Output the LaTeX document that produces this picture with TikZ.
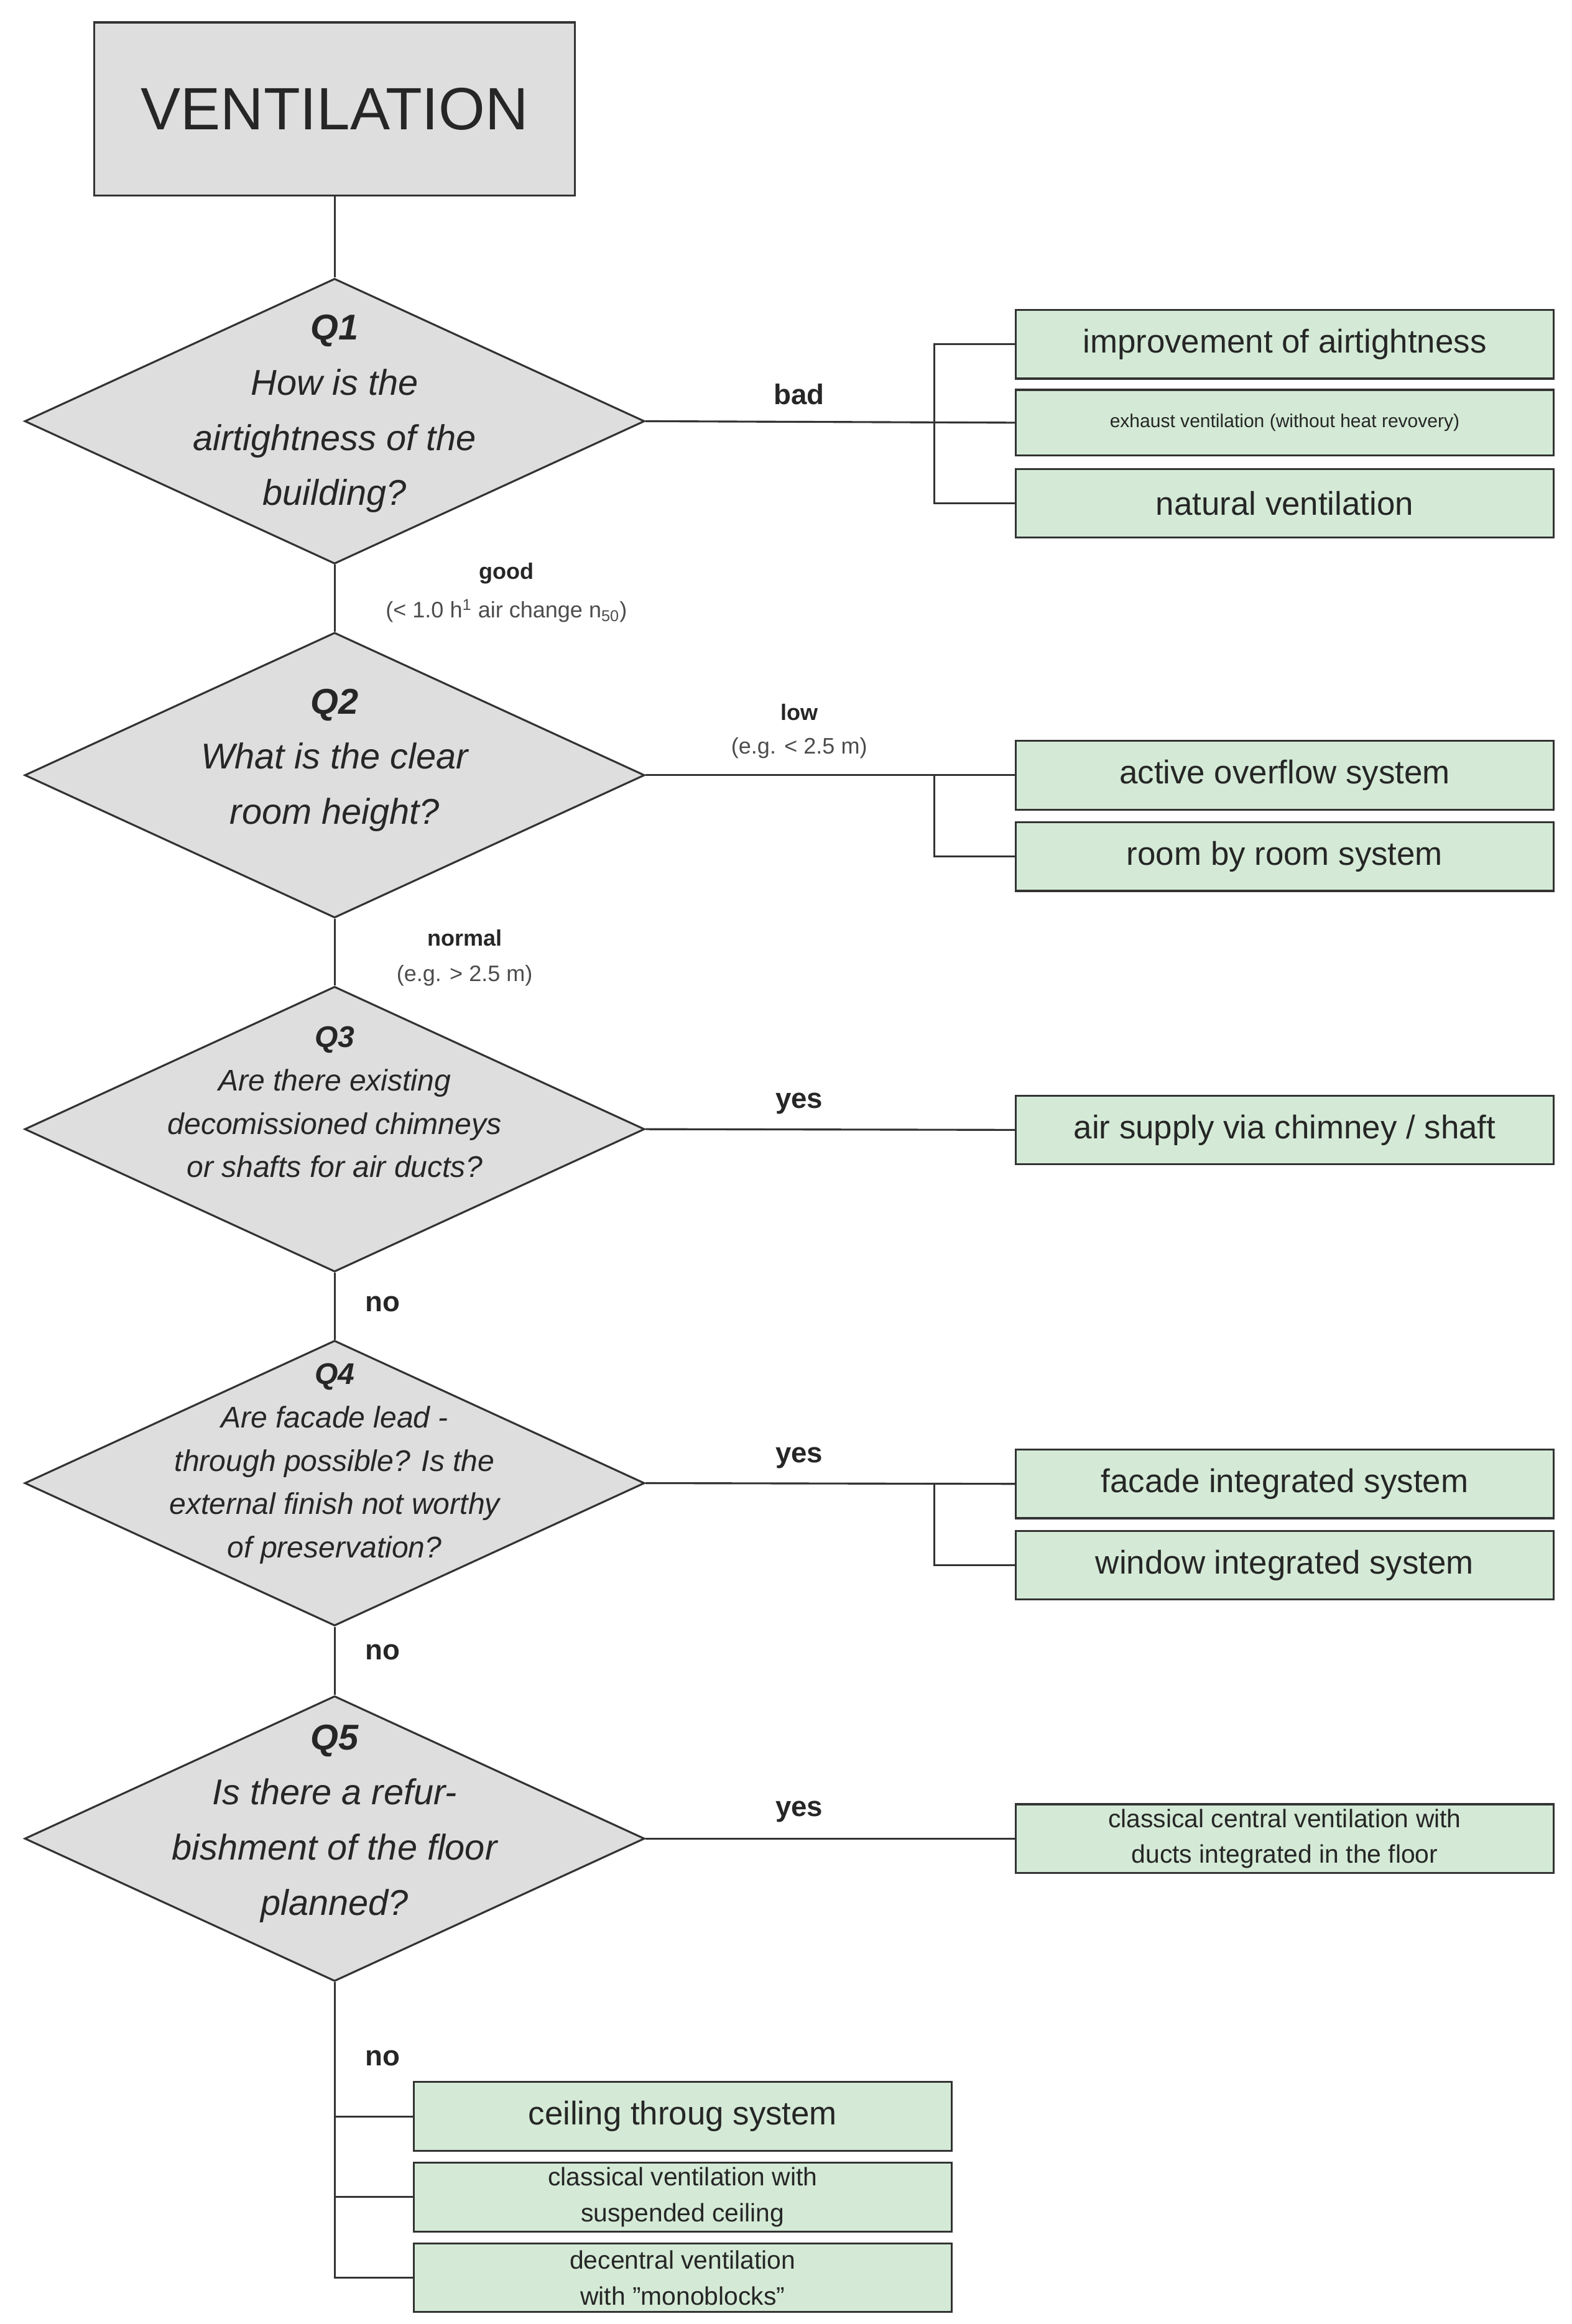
\documentclass[tikz,border=0pt]{standalone}
\usepackage{fontspec}
\setmainfont{Liberation Sans}
\usetikzlibrary{shapes.geometric}
\definecolor{boxg}{HTML}{D4EAD6}
\definecolor{dia}{HTML}{DEDEDE}
\definecolor{ln}{HTML}{333333}
\begin{document}
\begin{tikzpicture}[x=1pt,y=-1pt,line width=1.3pt,
  every node/.style={text=black!85},
  dm/.style={draw=ln,fill=dia,diamond,minimum width=415pt,minimum height=191pt,inner sep=0pt},
  dt/.style={align=center,font=\itshape\fontsize{24}{37}\selectfont},
  dts/.style={align=center,font=\itshape\fontsize{20}{29}\selectfont},
  gb/.style={draw=ln,fill=boxg,minimum width=360pt,minimum height=46pt,inner sep=0pt,align=center,font=\fontsize{22}{26}\selectfont},
  lb/.style={font=\bfseries\fontsize{19}{22}\selectfont},
  lbs/.style={font=\bfseries\fontsize{15}{18}\selectfont},
  sm/.style={font=\fontsize{15}{18}\selectfont,text=black!70}]
\useasboundingbox (0,0) rectangle (1052,1556);
\node[draw=ln,fill=dia,minimum width=322pt,minimum height=116pt,font=\fontsize{40}{44}\selectfont] (v) at (224,73) {VENTILATION};
\node[dm] (q1) at (224,282) {};
\node[dt] at (224,277) {\textbf{Q1}\\How is the\\airtightness of the\\building?};
\node[dm] (q2) at (224,519) {};
\node[dt] at (224,509) {\textbf{Q2}\\What is the clear\\room height?};
\node[dm] (q3) at (224,756) {};
\node[dts] at (224,738) {\textbf{Q3}\\Are there existing\\decomissioned chimneys\\or shafts for air ducts?};
\node[dm] (q4) at (224,993) {};
\node[dts] at (224,980) {\textbf{Q4}\\Are facade lead -\\through possible? Is the\\external finish not worthy\\of preservation?};
\node[dm] (q5) at (224,1231) {};
\node[dt] at (224,1221) {\textbf{Q5}\\Is there a refur-\\bishment of the floor\\planned?};
\node[gb] (b11) at (860,230.5) {improvement of airtightness};
\node[gb,minimum height=44pt,font=\fontsize{12.5}{15}\selectfont] (b12) at (860,283) {exhaust ventilation (without heat revovery)};
\node[gb] (b13) at (860,337) {natural ventilation};
\node[gb] (b21) at (860,519) {active overflow system};
\node[gb] (b22) at (860,573.5) {room by room system};
\node[gb] (b31) at (860,756.5) {air supply via chimney / shaft};
\node[gb] (b41) at (860,993.5) {facade integrated system};
\node[gb] (b42) at (860,1048) {window integrated system};
\node[gb,font=\fontsize{17}{24}\selectfont] (b51) at (860,1231) {classical central ventilation with\\ducts integrated in the floor};
\node[gb] (c1) at (457,1417) {ceiling throug system};
\node[gb,font=\fontsize{17}{24}\selectfont] (c2) at (457,1471) {classical ventilation with\\suspended ceiling};
\node[gb,font=\fontsize{17}{24}\selectfont] (c3) at (457,1525) {decentral ventilation\\with "monoblocks"};
\draw[ln] (v.south) -- (q1.north);
\draw[ln] (q1.south) -- (q2.north);
\draw[ln] (q2.south) -- (q3.north);
\draw[ln] (q3.south) -- (q4.north);
\draw[ln] (q4.south) -- (q5.north);
\draw[ln] (q1.east) -- (b12.west);
\draw[ln] (b11.west) -- ++(-54,0) |- (b13.west);
\draw[ln] (q2.east) -- (b21.west);
\draw[ln] ([xshift=-54pt]b21.west) |- (b22.west);
\draw[ln] (q3.east) -- (b31.west);
\draw[ln] (q4.east) -- (b41.west);
\draw[ln] ([xshift=-54pt]b41.west) |- (b42.west);
\draw[ln] (q5.east) -- (b51.west);
\draw[ln] (q5.south) |- (c3.west);
\draw[ln] (c1.west -| q5.south) -- (c1.west);
\draw[ln] (c2.west -| q5.south) -- (c2.west);
\node[lb] at (535,264) {bad};
\node[lbs] at (339,384) {good};
\node[sm] at (339,409) {(< 1.0 h\textsuperscript{1} air change n\textsubscript{50})};
\node[lbs] at (535,477) {low};
\node[sm] at (535,501) {(e.g. < 2.5 m)};
\node[lbs] at (311,628) {normal};
\node[sm] at (311,653) {(e.g. > 2.5 m)};
\node[lb] at (535,739) {yes};
\node[lb] at (256,873) {no};
\node[lb] at (535,976) {yes};
\node[lb] at (256,1106) {no};
\node[lb] at (535,1213) {yes};
\node[lb] at (256,1378) {no};
\end{tikzpicture}
\end{document}
